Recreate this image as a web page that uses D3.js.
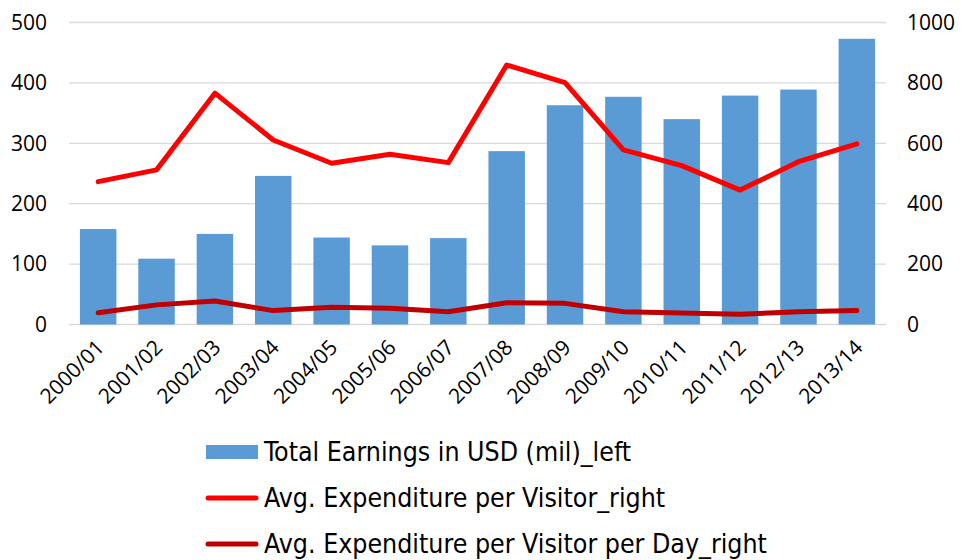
<!DOCTYPE html>
<html>
<head>
<meta charset="utf-8">
<script src="https://cdn.jsdelivr.net/npm/d3@7"></script>
<style>
  body { margin: 0; background: #fff; }
  svg { display: block; }
</style>
</head>
<body>
<svg id="visualization" width="962" height="560"></svg>
<script>
const years = ["2000/01", "2001/02", "2002/03", "2003/04", "2004/05", "2005/06", "2006/07",
    "2007/08", "2008/09", "2009/10", "2010/11", "2011/12", "2012/13", "2013/14"];
const totalEarnings = [158, 109, 150, 246, 144, 131, 143, 287, 363, 377, 340, 379, 389, 473];
const expPerVisitor = [473, 512, 766, 611, 534, 564, 536, 859, 801, 578, 526, 445, 539, 598];
const expPerVisitorDay = [39, 65, 78, 46, 57, 54, 42, 72, 70, 42, 38, 34, 42, 46];
const leftTicks = [0, 100, 200, 300, 400, 500];
const rightTicks = [0, 200, 400, 600, 800, 1000];
const legendLabels = ["Total Earnings in USD (mil)_left", "Avg. Expenditure per Visitor_right",
    "Avg. Expenditure per Visitor per Day_right"];

const colors = { bar: "#5b9bd5", line1: "#ff0000", line2: "#c00000", grid: "#d9d9d9" };
const font = "'Open Sans', sans-serif";

const svg = d3.select("#visualization");
const margin = { left: 69, right: 886, top: 22.5, bottom: 324.5 };

const xScale = d3.scaleBand()
    .domain(years)
    .range([margin.left, margin.right])
    .paddingInner(0.375)
    .paddingOuter(0.1875);
const yLeft = d3.scaleLinear().domain([0, 500]).range([margin.bottom, margin.top]);
const yRight = d3.scaleLinear().domain([0, 1000]).range([margin.bottom, margin.top]);

// gridlines
svg.append("g")
    .selectAll("line")
    .data(leftTicks)
    .join("line")
    .attr("x1", margin.left)
    .attr("x2", margin.right)
    .attr("y1", d => yLeft(d))
    .attr("y2", d => yLeft(d))
    .attr("stroke", colors.grid)
    .attr("stroke-width", 1.3);

// left axis
const leftAxis = svg.append("g")
    .attr("transform", `translate(${margin.left - 22}, 0)`)
    .call(d3.axisLeft(yLeft).tickValues(leftTicks).tickFormat(d3.format("d")).tickSize(0).tickPadding(0));
leftAxis.select(".domain").remove();
leftAxis.selectAll("text")
    .attr("font-family", font)
    .attr("font-size", 21)
    .attr("fill", "#000");

// right axis
const rightAxis = svg.append("g")
    .attr("transform", `translate(${margin.right + 21}, 0)`)
    .call(d3.axisRight(yRight).tickValues(rightTicks).tickFormat(d3.format("d")).tickSize(0).tickPadding(0));
rightAxis.select(".domain").remove();
rightAxis.selectAll("text")
    .attr("font-family", font)
    .attr("font-size", 21)
    .attr("fill", "#000");

// bars
svg.append("g")
    .selectAll("rect")
    .data(totalEarnings)
    .join("rect")
    .attr("x", (d, i) => xScale(years[i]))
    .attr("width", xScale.bandwidth())
    .attr("y", d => yLeft(d))
    .attr("height", d => yLeft(0) - yLeft(d))
    .attr("fill", colors.bar);

// x axis labels
const xAxis = svg.append("g")
    .attr("transform", `translate(0, ${margin.bottom + 10})`)
    .call(d3.axisBottom(xScale).tickSize(0).tickPadding(0));
xAxis.select(".domain").remove();
xAxis.selectAll("text")
    .attr("font-family", font)
    .attr("font-size", 21)
    .attr("fill", "#000")
    .attr("text-anchor", "end")
    .attr("dy", "0.35em")
    .attr("transform", "translate(2, 9) rotate(-45)");

// lines
const cx = i => xScale(years[i]) + xScale.bandwidth() / 2;
const line = d3.line()
    .x((d, i) => cx(i))
    .y(d => yRight(d));

svg.append("path")
    .datum(expPerVisitor)
    .attr("d", line)
    .attr("fill", "none")
    .attr("stroke", colors.line1)
    .attr("stroke-width", 5)
    .attr("stroke-linecap", "round")
    .attr("stroke-linejoin", "round");

svg.append("path")
    .datum(expPerVisitorDay)
    .attr("d", line)
    .attr("fill", "none")
    .attr("stroke", colors.line2)
    .attr("stroke-width", 5)
    .attr("stroke-linecap", "round")
    .attr("stroke-linejoin", "round");

// legend
const legend = svg.append("g").attr("transform", "translate(206, 0)");
const legendY = [452, 498, 544];
const legendItems = legend.selectAll("g")
    .data(legendLabels)
    .join("g")
    .attr("transform", (d, i) => `translate(0, ${legendY[i]})`);

legendItems.filter((d, i) => i === 0)
    .append("rect")
    .attr("x", 0)
    .attr("y", -7)
    .attr("width", 52)
    .attr("height", 14)
    .attr("fill", colors.bar);

legendItems.filter((d, i) => i > 0)
    .append("line")
    .attr("x1", 2)
    .attr("x2", 50)
    .attr("stroke", (d, i) => i === 0 ? colors.line1 : colors.line2)
    .attr("stroke-width", 5)
    .attr("stroke-linecap", "round");

legendItems.append("text")
    .attr("x", 58)
    .attr("y", 9)
    .attr("font-family", "'DejaVu Sans Condensed', sans-serif")
    .attr("font-size", 26.5)
    .attr("fill", "#000")
    .text(d => d);
</script>
</body>
</html>
